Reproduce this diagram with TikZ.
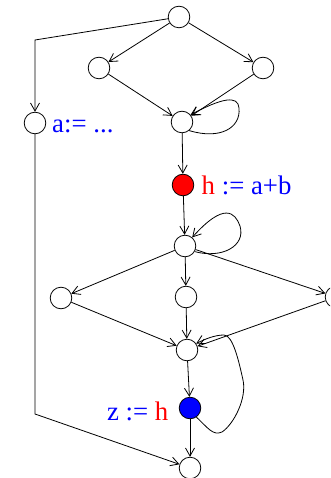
\documentclass[tikz,border=0pt]{standalone}
\usepackage{fontspec}
\setmainfont{Liberation Serif}
\usetikzlibrary{arrows.meta}
\begin{document}
\begin{tikzpicture}[x=1pt,y=-1pt,
  vtx/.style={circle,draw,line width=0.8pt,minimum size=21.6pt,inner sep=0pt},
  arr/.style={line width=0.8pt,-{Straight Barb[length=8pt,width=9pt,line width=0.8pt]}},
  lbl/.style={inner sep=0pt,font=\fontsize{26.8}{30}\selectfont}]
\useasboundingbox (0,0) rectangle (330,478);
\clip (0,0) rectangle (330,478);
\node[vtx] (top) at (179,17) {};
\node[vtx] (L1) at (99,68) {};
\node[vtx] (R1) at (263,68) {};
\node[vtx] (a) at (35,123) {};
\node[vtx] (J1) at (182,122) {};
\node[vtx,fill=red] (red) at (183,185) {};
\node[vtx] (J2) at (185,246) {};
\node[vtx] (left2) at (61,298) {};
\node[vtx] (mid2) at (186,297) {};
\node[vtx] (right2) at (336,297) {};
\node[vtx] (J3) at (187,350) {};
\node[vtx,fill=blue] (blue) at (190,408) {};
\node[vtx] (bottom) at (190,468) {};
\coordinate (c1) at (35,40);
\coordinate (c2) at (35,414);
\node[lbl,anchor=base west,text=blue] (la) at (52,133) {a:= ...};
\node[lbl,anchor=base west] (lh) at (201.5,194) {{\color{red}h} {\color{blue}:= a+b}};
\node[lbl,anchor=base east] (lz) at (168.5,420) {{\color{blue}z :=} {\color{red}h}};
\draw[arr] (top) -- (L1);
\draw[arr] (top) -- (R1);
\draw[arr] (top) -- (c1) -- (a);
\draw[arr] (L1) -- (J1);
\draw[arr] (R1) -- (J1);
\draw[arr] (J1.-50) .. controls (220,140) and (241,128) .. (239,108) .. controls (238,95) and (222,98) .. (J1.40);
\draw[arr] (J1) -- (red);
\draw[arr] (red) -- (J2);
\draw[arr] (J2.-30) .. controls (222,259) and (246,246) .. (240,226) .. controls (235,212) and (224,202) .. (J2.50);
\draw[arr] (J2) -- (left2);
\draw[arr] (J2) -- (mid2);
\draw[arr] (J2) -- (right2);
\draw[arr] (left2) -- (J3);
\draw[arr] (mid2) -- (J3);
\draw[arr] (right2) -- (J3);
\draw[arr] (J3) -- (blue);
\draw[arr] (blue.-55) .. controls (208,428) and (213,436) .. (222,432) .. controls (234,424) and (247,398) .. (243,380) .. controls (239,362) and (233,335) .. (224,335) .. controls (215,335) and (205,339) .. (J3.35);
\draw[arr] (blue) -- (bottom);
\draw[arr] (a) -- (c2) -- (bottom);
\end{tikzpicture}
\end{document}
